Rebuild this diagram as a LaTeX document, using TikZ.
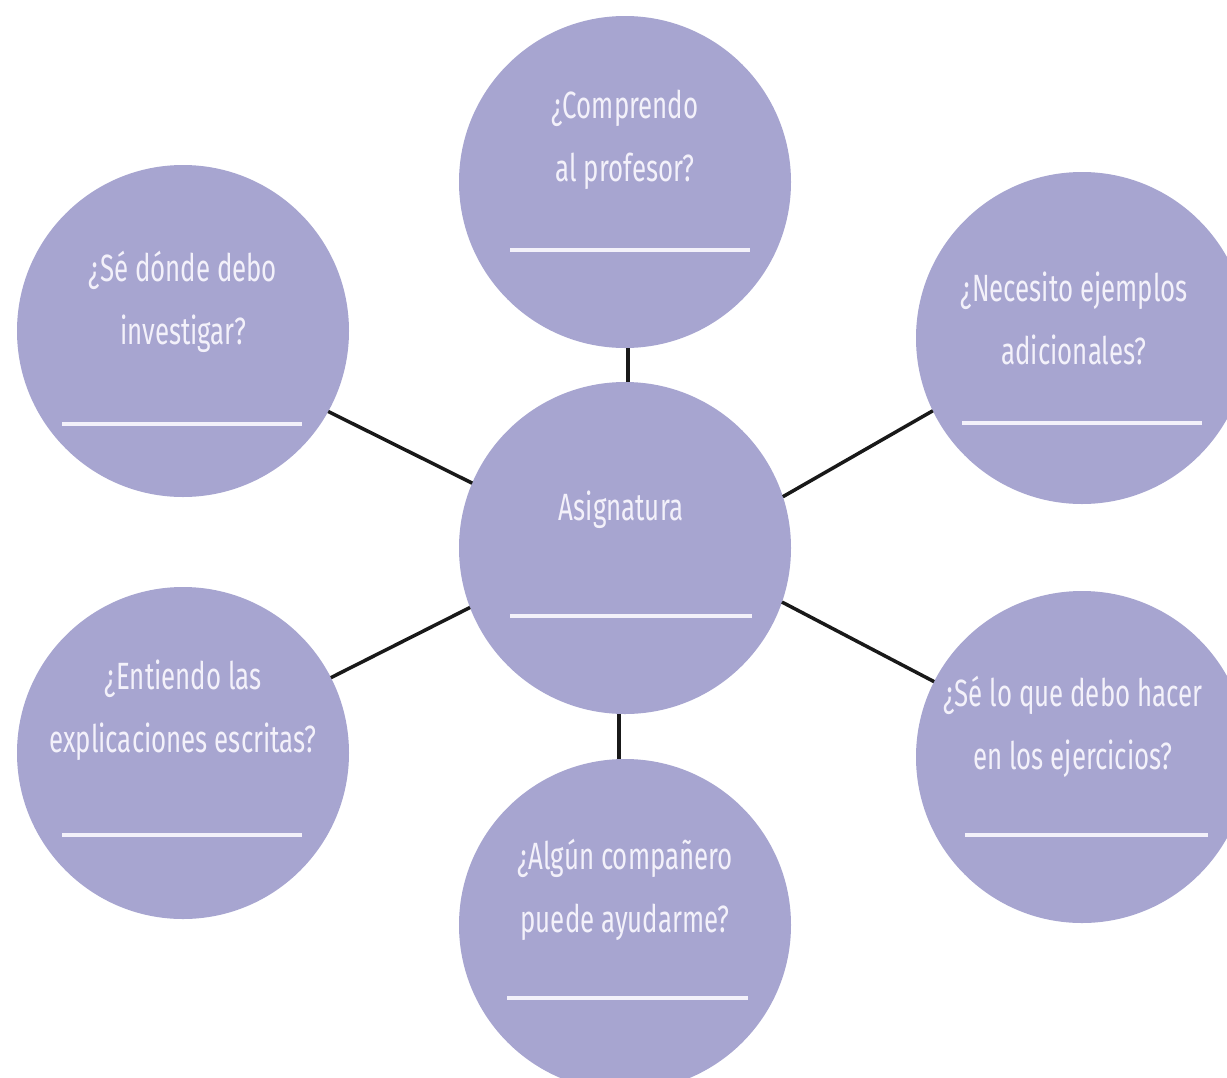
\documentclass[tikz,border=0pt]{standalone}
\usepackage{fontspec}
\setmainfont{Fira Sans}[FakeStretch=0.68]
\definecolor{bub}{RGB}{167,165,208}
\definecolor{txt}{RGB}{243,241,250}
\begin{document}
\begin{tikzpicture}[x=1pt,y=-1pt,
  bubble/.style={circle,fill=bub,draw=none,minimum size=332pt,inner sep=0pt,outer sep=0pt},
  qtext/.style={text=txt,align=center,inner sep=0pt,font=\fontsize{38}{63}\selectfont},
  conn/.style={line width=3.5pt,draw=black!90},
  blank/.style={draw=txt,line width=3.2pt}]
\useasboundingbox (0,0) rectangle (1227,1077);
\fill[white] (0,0) rectangle (1227,1077);
\begin{scope}
\clip (0,0) rectangle (1227,1077);
% circles
\node[bubble] (T)  at (625,182) {};
\node[bubble] (C)  at (625,548) {};
\node[bubble] (TL) at (183,331) {};
\node[bubble] (TR) at (1082,338) {};
\node[bubble] (BL) at (183,753) {};
\node[bubble] (BR) at (1082,757) {};
\node[bubble] (B)  at (625,925) {};
% connectors
\draw[conn] (C.89)    -- (T.-89);
\draw[conn] (C.-92)   -- (B.92);
\draw[conn] (C.157.9) -- (TL.-29.4);
\draw[conn] (C.18.3)  -- (TR.-154.3);
\draw[conn] (C.-159.8)-- (BL.27.5);
\draw[conn] (C.-19.3) -- (BR.153.6);
% texts
\node[qtext] (tT)  at (625,140) {¿Comprendo\\al profesor?};
\node[qtext] (tC)  at (621,510) {Asignatura};
\node[qtext] (tTL) at (183,302) {¿Sé dónde debo\\investigar?};
\node[qtext] (tTR) at (1074,318) {¿Necesito ejemplos\\adicionales?};
\node[qtext] (tBL) at (183,710) {¿Entiendo las\\explicaciones escritas?};
\node[qtext] (tBR) at (1073,727) {¿Sé lo que debo hacer\\en los ejercicios?};
\node[qtext] (tB)  at (625,890) {¿Algún compañero\\puede ayudarme?};
% blank lines
\draw[blank] (510,250)  -- (750,250);
\draw[blank] (510,616)  -- (752,616);
\draw[blank] (62,424)   -- (302,424);
\draw[blank] (962,423)  -- (1202,423);
\draw[blank] (62,835)   -- (302,835);
\draw[blank] (965,835)  -- (1208,835);
\draw[blank] (507,998) -- (748,998);
\end{scope}
\end{tikzpicture}
\end{document}
